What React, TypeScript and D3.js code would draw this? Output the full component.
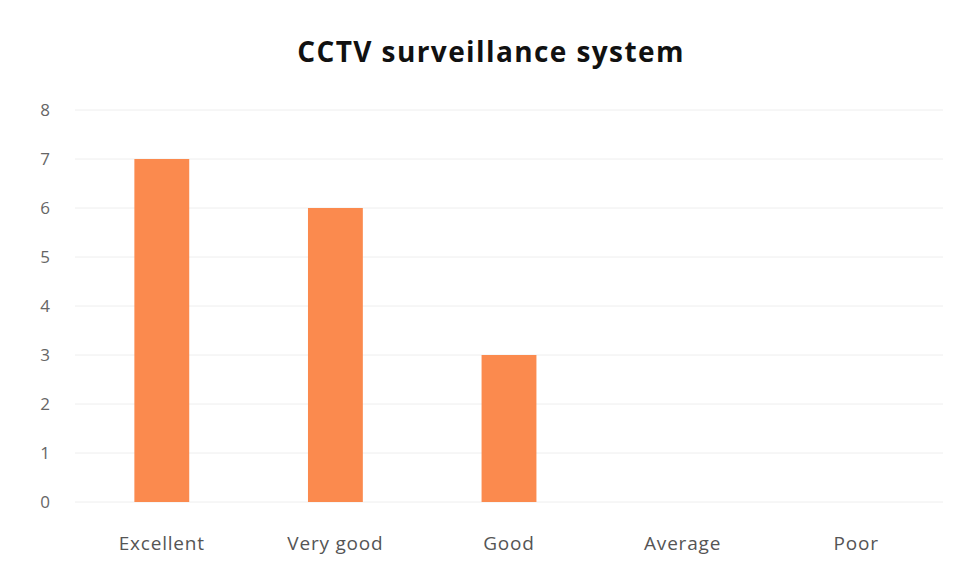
import React, { useEffect, useRef } from 'react';
import * as d3 from 'd3';

const categories = ['Excellent', 'Very good', 'Good', 'Average', 'Poor'];
const values = [7, 6, 3, 0, 0];
const yTicks = [0, 1, 2, 3, 4, 5, 6, 7, 8];
const title = 'CCTV surveillance system';

export default function App() {
  const ref = useRef<SVGSVGElement>(null);

  useEffect(() => {
    const width = 962,
      height = 585,
      margin = { top: 110, right: 19, bottom: 83, left: 75 };

    const svg = d3.select(ref.current);
    svg.selectAll('*').remove();

    svg.append('rect').attr('width', width).attr('height', height).attr('fill', '#fff');

    // x 比例尺
    const x = d3.scaleBand()
      .domain(categories)
      .range([margin.left, width - margin.right])
      .paddingInner(0.684)
      .paddingOuter(0.342);

    const y = d3.scaleLinear()
      .domain([0, 8])
      .range([height - margin.bottom, margin.top]);

    // 网格线
    svg.append('g')
      .selectAll('line').data(yTicks).enter().append('line')
      .attr('x1', margin.left)
      .attr('x2', width - margin.right)
      .attr('y1', d => y(d))
      .attr('y2', d => y(d))
      .attr('stroke', '#eeeeee')
      .attr('stroke-width', 1);

    // y 刻度
    svg.append('g')
      .selectAll('text').data(yTicks).enter().append('text')
      .attr('x', 45)
      .attr('y', d => y(d))
      .attr('dy', '0.35em')
      .attr('text-anchor', 'middle')
      .attr('font-family', 'Open Sans, sans-serif')
      .attr('font-size', 17)
      .attr('fill', '#666')
      .text(d => d);

    svg.append('g')
      .attr('fill', '#fb8a4e')
      .selectAll('rect').data(values).enter().append('rect')
      .attr('x', (d, i) => x(categories[i])!)
      .attr('y', d => y(d))
      .attr('width', x.bandwidth())
      .attr('height', d => y(0) - y(d));

    // x 标签
    svg.append('g')
      .selectAll('text').data(categories).enter().append('text')
      .attr('x', d => x(d)! + x.bandwidth() / 2)
      .attr('y', 550)
      .attr('text-anchor', 'middle')
      .attr('font-family', 'Open Sans, sans-serif')
      .attr('font-size', 19)
      .attr('letter-spacing', 0.8)
      .attr('fill', '#555')
      .text(d => d);

    svg.append('text')
      .attr('x', 491)
      .attr('y', 62)
      .attr('text-anchor', 'middle')
      .attr('font-family', 'Open Sans, sans-serif')
      .attr('font-weight', 'bold')
      .attr('font-size', 28)
      .attr('letter-spacing', 1.4)
      .attr('fill', '#111')
      .text(title);
  }, []);

  return (
    <svg ref={ref} width={962} height={585} style={{ position: 'absolute', left: 0, top: 0 }} />
  );
}
